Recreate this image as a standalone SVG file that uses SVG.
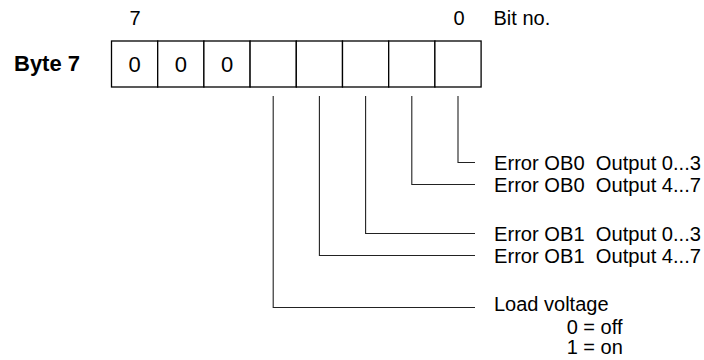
<svg xmlns="http://www.w3.org/2000/svg" width="704" height="360" viewBox="0 0 704 360">
<style>
text{font-family:"Liberation Sans",Arial,sans-serif;font-size:20px;fill:#000;white-space:pre}
.b{font-weight:bold;font-size:22px}
.d{font-size:22px;text-anchor:middle}
.m{text-anchor:middle}
.cell{fill:#fff;stroke:#000;stroke-width:1.3}
.conn{fill:none;stroke:#222;stroke-width:1.1}
</style>
<rect width="704" height="360" fill="#fff"/>
<g id="header">
<text class="m" x="135" y="25">7</text>
<text class="m" x="459" y="25">0</text>
<text x="493.5" y="25">Bit no.</text>
</g>
<g id="byte-label">
<text class="b" x="14" y="71">Byte 7</text>
</g>
<g id="byte">
<rect class="cell" x="111.5" y="41" width="46.2" height="46"/>
<rect class="cell" x="157.7" y="41" width="46.2" height="46"/>
<rect class="cell" x="203.9" y="41" width="46.2" height="46"/>
<rect class="cell" x="250.1" y="41" width="46.2" height="46"/>
<rect class="cell" x="296.3" y="41" width="46.2" height="46"/>
<rect class="cell" x="342.5" y="41" width="46.2" height="46"/>
<rect class="cell" x="388.7" y="41" width="46.2" height="46"/>
<rect class="cell" x="434.9" y="41" width="46.2" height="46"/>
<text class="d" x="134.6" y="72">0</text>
<text class="d" x="180.8" y="72">0</text>
<text class="d" x="227" y="72">0</text>
</g>
<g id="connectors">
<polyline class="conn" points="458,96 458,162.5 475,162.5"/>
<polyline class="conn" points="411.8,96 411.8,184.5 475,184.5"/>
<polyline class="conn" points="365.6,96 365.6,233.5 475,233.5"/>
<polyline class="conn" points="319.4,96 319.4,255.5 475,255.5"/>
<polyline class="conn" points="273.2,96 273.2,307.5 475,307.5"/>
</g>
<g id="label-bit0">
<text x="494" y="169.5" textLength="207" lengthAdjust="spacingAndGlyphs">Error OB0  Output 0...3</text>
</g>
<g id="label-bit1">
<text x="494" y="191.5" textLength="207" lengthAdjust="spacingAndGlyphs">Error OB0  Output 4...7</text>
</g>
<g id="label-bit2">
<text x="494" y="240.5" textLength="207" lengthAdjust="spacingAndGlyphs">Error OB1  Output 0...3</text>
</g>
<g id="label-bit3">
<text x="494" y="262.5" textLength="207" lengthAdjust="spacingAndGlyphs">Error OB1  Output 4...7</text>
</g>
<g id="label-bit4">
<text x="494" y="311">Load voltage</text>
<text x="566.7" y="333.5">0 = off</text>
<text x="566.7" y="354">1 = on</text>
</g>
</svg>
